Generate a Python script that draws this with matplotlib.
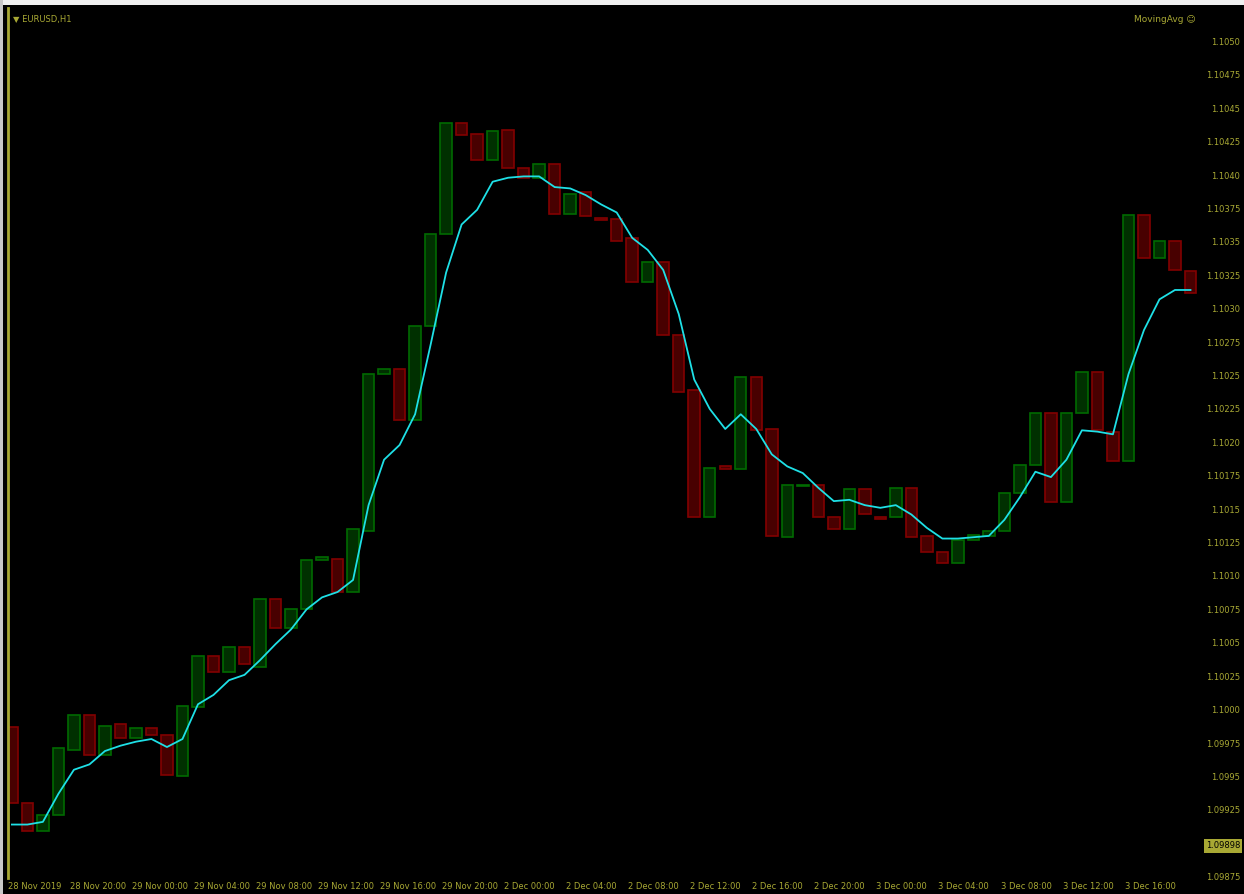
import matplotlib
matplotlib.use("Agg")
import matplotlib.pyplot as plt
from matplotlib.patches import Rectangle
import numpy as np

# EURUSD H1 bars (open / close)
opens = [1.09987, 1.09930, 1.09909, 1.09921, 1.09970, 1.09996, 1.09966, 1.09989,
         1.09979, 1.09986, 1.09981, 1.09950, 1.10002, 1.10040, 1.10028, 1.10047,
         1.10032, 1.10083, 1.10061, 1.10075, 1.10112, 1.10113, 1.10088, 1.10134,
         1.10251, 1.10255, 1.10217, 1.10287, 1.10356, 1.10439, 1.10431, 1.10411,
         1.10434, 1.10405, 1.10398, 1.10408, 1.10371, 1.10387, 1.10368, 1.10367,
         1.10353, 1.10320, 1.10335, 1.10280, 1.10239, 1.10144, 1.10182, 1.10180,
         1.10249, 1.10210, 1.10129, 1.10167, 1.10168, 1.10144, 1.10135, 1.10165,
         1.10144, 1.10144, 1.10166, 1.10130, 1.10118, 1.10110, 1.10127, 1.10130,
         1.10134, 1.10162, 1.10183, 1.10222, 1.10155, 1.10222, 1.10253, 1.10208,
         1.10186, 1.10370, 1.10338, 1.10351, 1.10328]
closes = [1.09930, 1.09909, 1.09921, 1.09971, 1.09996, 1.09966, 1.09988, 1.09979,
          1.09986, 1.09981, 1.09951, 1.10003, 1.10040, 1.10028, 1.10047, 1.10034,
          1.10083, 1.10061, 1.10075, 1.10112, 1.10114, 1.10088, 1.10135, 1.10251,
          1.10255, 1.10217, 1.10287, 1.10356, 1.10439, 1.10430, 1.10411, 1.10433,
          1.10405, 1.10398, 1.10408, 1.10371, 1.10386, 1.10369, 1.10366, 1.10351,
          1.10320, 1.10335, 1.10280, 1.10238, 1.10144, 1.10181, 1.10180, 1.10249,
          1.10209, 1.10130, 1.10168, 1.10168, 1.10144, 1.10135, 1.10165, 1.10146,
          1.10143, 1.10166, 1.10129, 1.10118, 1.10110, 1.10127, 1.10131, 1.10134,
          1.10162, 1.10183, 1.10222, 1.10155, 1.10222, 1.10253, 1.10209, 1.10186,
          1.10370, 1.10338, 1.10351, 1.10329, 1.10312]
# moving average (cyan)
ma = [1.09914, 1.09914, 1.09916, 1.09937, 1.09955, 1.09959, 1.09969, 1.09973,
      1.09976, 1.09978, 1.09972, 1.09978, 1.10004, 1.10011, 1.10022, 1.10026,
      1.10037, 1.10049, 1.10060, 1.10075, 1.10084, 1.10088, 1.10097, 1.10153,
      1.10187, 1.10198, 1.10221, 1.10273, 1.10327, 1.10363, 1.10374, 1.10395,
      1.10398, 1.10399, 1.10399, 1.10391, 1.10390, 1.10385, 1.10378, 1.10372,
      1.10353, 1.10344, 1.10329, 1.10296, 1.10247, 1.10225, 1.10210, 1.10221,
      1.10210, 1.10191, 1.10182, 1.10177, 1.10166, 1.10156, 1.10157, 1.10153,
      1.10151, 1.10153, 1.10146, 1.10136, 1.10128, 1.10128, 1.10129, 1.10130,
      1.10142, 1.10159, 1.10178, 1.10174, 1.10187, 1.10209, 1.10208, 1.10206,
      1.10251, 1.10284, 1.10307, 1.10314, 1.10314]

price_levels = [1.10500 - 0.00025 * k for k in range(26)]
time_labels = ["28 Nov 2019", "28 Nov 20:00", "29 Nov 00:00", "29 Nov 04:00",
               "29 Nov 08:00", "29 Nov 12:00", "29 Nov 16:00", "29 Nov 20:00",
               "2 Dec 00:00", "2 Dec 04:00", "2 Dec 08:00", "2 Dec 12:00",
               "2 Dec 16:00", "2 Dec 20:00", "3 Dec 00:00", "3 Dec 04:00",
               "3 Dec 08:00", "3 Dec 12:00", "3 Dec 16:00"]
title = "EURUSD,H1"
expert = "MovingAvg"
bid_price = 1.09898

fg = "#a8a834"
up_fill, up_edge = "#003000", "#006a00"
dn_fill, dn_edge = "#480000", "#820000"

fig = plt.figure(figsize=(12.44, 8.94), dpi=100, facecolor="black")
W, H = 1244, 894
ax = fig.add_axes([8 / W, 1 - 878 / H, (1197 - 8) / W, (878 - 8) / H])
ax.set_facecolor("black")

x = np.arange(len(opens))
o = np.array(opens)
c = np.array(closes)
up = c >= o
body = c - o
ax.bar(x[up], body[up], bottom=o[up], width=0.74, color=up_fill,
       edgecolor=up_edge, linewidth=1.2, zorder=2)
ax.bar(x[~up], body[~up], bottom=o[~up], width=0.74, color=dn_fill,
       edgecolor=dn_edge, linewidth=1.2, zorder=2)
ax.plot(x, ma, color="#1ee0e6", linewidth=1.3, zorder=3)

ax.set_xlim(-0.19, 76.42)
ax.set_ylim(1.09874, 1.10525)

# price scale on the right; the level under the bid box is covered by it
ylabels = []
for k, p in enumerate(price_levels):
    if abs(p - bid_price) < 0.0001:
        ylabels.append("")
    elif k % 2 == 0:
        ylabels.append(f"{p:.4f}")
    else:
        ylabels.append(f"{p:.5f}")
ax.yaxis.tick_right()
ax.set_yticks(price_levels)
ax.set_yticklabels(ylabels)
ax.tick_params(axis="y", length=0, pad=31, labelsize=6, labelcolor=fg)
for lbl in ax.get_yticklabels():
    lbl.set_horizontalalignment("right")

# time scale
ax.set_xticks(np.arange(0, 4 * len(time_labels), 4) - 0.25)
ax.set_xticklabels(time_labels)
ax.tick_params(axis="x", length=0, pad=3, labelsize=6, labelcolor=fg)
for lbl in ax.get_xticklabels():
    lbl.set_horizontalalignment("left")

for s in ["top", "right", "bottom"]:
    ax.spines[s].set_visible(False)
ax.spines["left"].set_color(fg)
ax.spines["left"].set_linewidth(2)

# header texts
ax.text(0.004, 0.992, "\u25bc " + title, transform=ax.transAxes, color=fg,
        fontsize=6, va="top", ha="left")
ax.text(0.999, 0.992, expert + " \u263a", transform=ax.transAxes, color=fg,
        fontsize=6.5, va="top", ha="right")

# highlighted bid box on the price scale
ax.annotate(f"{bid_price:.5f}", xy=(1, bid_price), xycoords=("axes fraction", "data"),
            xytext=(1240 / W, 0), textcoords=("figure fraction", "offset points"),
            color="black", fontsize=6, ha="right", va="center", annotation_clip=False,
            bbox=dict(boxstyle="square,pad=0.25", facecolor=fg, edgecolor="none"))

# window border strips
fig.patches.append(Rectangle((0, 1 - 5 / H), 1, 5 / H, transform=fig.transFigure,
                             facecolor="#f0f0f0", edgecolor="none"))
fig.patches.append(Rectangle((0, 0), 3 / W, 1, transform=fig.transFigure,
                             facecolor="#c8c8c8", edgecolor="none"))

fig.savefig("out.png", dpi=100, facecolor="black")
